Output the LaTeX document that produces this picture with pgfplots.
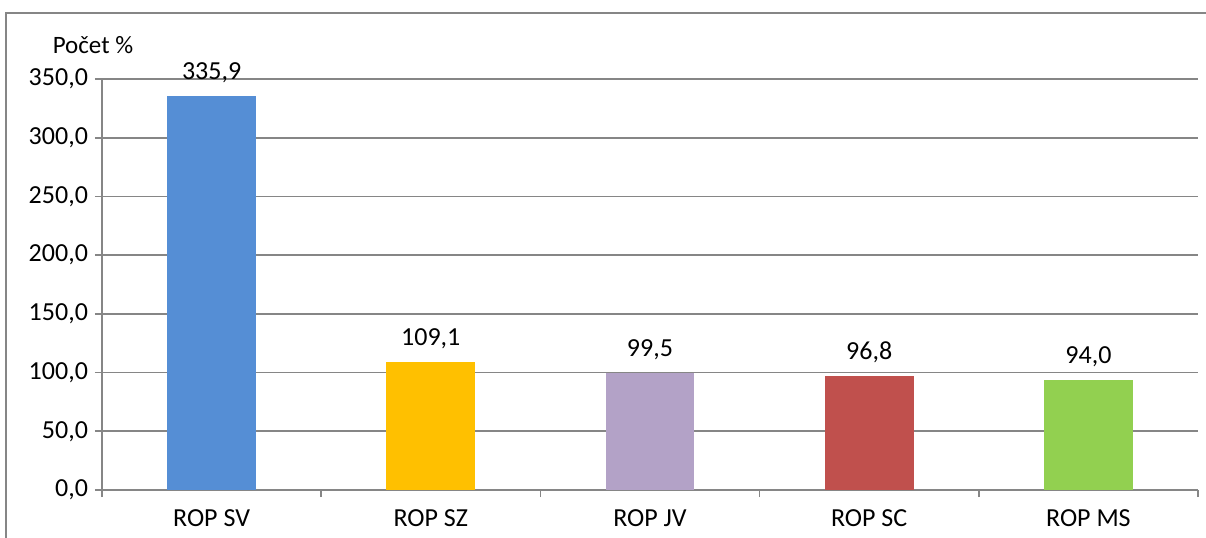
\documentclass[border=0pt]{standalone}
\usepackage{pgfplots}
\pgfplotsset{compat=1.18}
\usepackage{fontspec}
\setmainfont{Carlito}
\definecolor{gridgray}{RGB}{134,134,134}
\definecolor{cSV}{RGB}{85,142,213}
\definecolor{cSZ}{RGB}{255,192,0}
\definecolor{cJV}{RGB}{179,162,199}
\definecolor{cSC}{RGB}{192,80,77}
\definecolor{cMS}{RGB}{146,208,80}
\begin{document}
\begin{tikzpicture}[x=0.5pt,y=0.5pt]
\useasboundingbox (0,0) rectangle (1206,537);
% outer chart frame (cut at right and bottom)
\draw[gridgray, line width=1pt] (6,-10) -- (6,524) -- (1216,524);
\begin{axis}[
    at={(51pt,23.5pt)}, anchor=south west,
    scale only axis, width=548pt, height=205.5pt,
    xmin=-0.5, xmax=4.5, ymin=0, ymax=350,
    axis x line=bottom, axis y line=left,
    axis line style={gridgray, line width=0.8pt, -},
    ytick={0,50,...,350},
    ymajorgrids, major grid style={gridgray, line width=0.8pt},
    xtick={0,1,2,3,4},
    xticklabels={ROP SV, ROP SZ, ROP JV, ROP SC, ROP MS},
    minor xtick={-0.5,0.5,1.5,2.5,3.5,4.5},
    tick align=outside,
    major tick length=3.5pt, minor tick length=3.5pt,
    x tick style={draw=none}, minor x tick style={draw=gridgray, line width=0.8pt},
    y tick style={gridgray, line width=0.8pt},
    tick label style={font=\fontsize{13}{15}\selectfont, text=black},
    xticklabel style={yshift=-3pt},
    /pgf/number format/.cd, fixed, fixed zerofill, precision=1, use comma, assume math mode=true,
    /pgfplots/.cd,
    ybar, bar width=0.406, bar shift=0pt,
    nodes near coords,
    every node near coord/.append style={font=\fontsize{13}{15}\selectfont, text=black, yshift=3pt},
]
\addplot[fill=cSV, draw=none] coordinates {(0,335.9)};
\addplot[fill=cSZ, draw=none] coordinates {(1,109.1)};
\addplot[fill=cJV, draw=none] coordinates {(2,99.5)};
\addplot[fill=cSC, draw=none] coordinates {(3,96.8)};
\addplot[fill=cMS, draw=none] coordinates {(4,94.0)};
\end{axis}
\node[font=\fontsize{12.5}{15}\selectfont] at (93,492) {Počet \%};
\end{tikzpicture}
\end{document}
